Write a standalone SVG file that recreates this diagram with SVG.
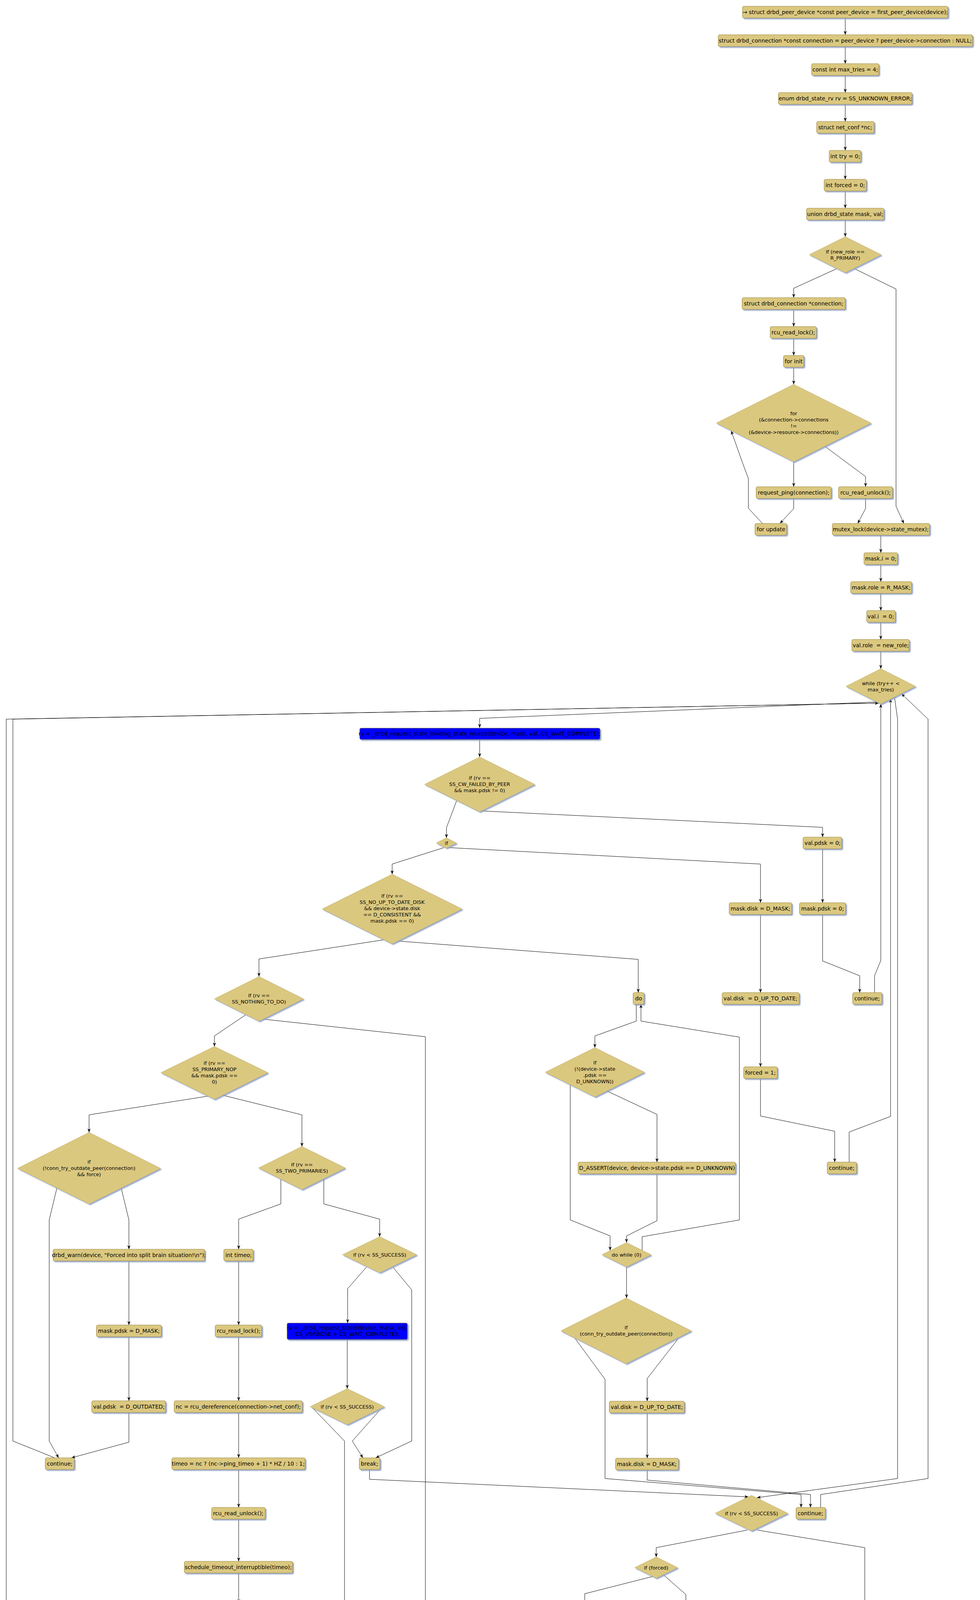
<svg xmlns="http://www.w3.org/2000/svg" width="2509" height="7654" viewBox="0 0 2509 7654">
<defs>
<filter id="sh" x="-10%" y="-20%" width="130%" height="160%"><feDropShadow dx="3" dy="3" stdDeviation="1" flood-color="#8b9fc6" flood-opacity="0.85"/></filter>
<marker id="ar" markerUnits="userSpaceOnUse" markerWidth="12" markerHeight="10" refX="10" refY="4" orient="auto"><path d="M0,0 L10,4 L0,8 L3,4 Z" fill="#000"/></marker>
</defs>
<style>
.b{fill:#dbc87f;stroke:#9c8847;stroke-width:1.2;filter:url(#sh)}
.blue{fill:#0000ff;stroke:#7c6d3a;stroke-width:1.2;filter:url(#sh)}
.red{fill:#ff0000;stroke:#9c8847;stroke-width:1.2;filter:url(#sh)}
.d{fill:#dbc87f;stroke:#c3b06a;stroke-width:1;filter:url(#sh)}
text{font-family:"DejaVu Sans","Liberation Sans",sans-serif;fill:#000;white-space:pre;text-anchor:middle}
.t{font-size:14px}
.dt{font-size:12.8px}
.e{fill:none;stroke:#000;stroke-width:1;marker-end:url(#ar)}
</style>
<rect width="2509" height="7654" fill="#fff"/>
<g id="edges">
<polyline class="e" points="2164,46 2164,89"/>
<polyline class="e" points="2164,119 2164,163"/>
<polyline class="e" points="2164,193 2164,237"/>
<polyline class="e" points="2164,267 2164,311"/>
<polyline class="e" points="2164,341 2164,385"/>
<polyline class="e" points="2164,415 2164,459"/>
<polyline class="e" points="2164,489 2164,533"/>
<polyline class="e" points="2164,563 2164,606"/>
<polyline class="e" points="2142,688 2032,738 2032,762"/>
<polyline class="e" points="2188,688 2294,740 2294,1296 2314,1340"/>
<polyline class="e" points="2032,792 2032,836"/>
<polyline class="e" points="2032,866 2032,910"/>
<polyline class="e" points="2032,940 2032,984"/>
<polyline class="e" points="2032,1182 2032,1246"/>
<polyline class="e" points="2111,1142 2216,1220 2216,1246"/>
<polyline class="e" points="2032,1276 2032,1302 1997,1340"/>
<polyline class="e" points="1952,1340 1916,1301 1916,1225 1900,1182 1872,1103"/>
<polyline class="e" points="2216,1276 2216,1302 2196,1340"/>
<polyline class="e" points="2255,1370 2255,1415"/>
<polyline class="e" points="2255,1445 2255,1489"/>
<polyline class="e" points="2255,1519 2255,1563"/>
<polyline class="e" points="2255,1593 2255,1637"/>
<polyline class="e" points="2255,1667 2255,1712"/>
<polyline class="e" points="2244,1797 1228,1839 1228,1863"/>
<polyline class="e" points="1228,1893 1228,1938"/>
<polyline class="e" points="1169,2050 1143,2119 1143,2145"/>
<polyline class="e" points="1233,2076 2106,2118 2106,2143"/>
<polyline class="e" points="2106,2173 2106,2311"/>
<polyline class="e" points="2106,2341 2106,2460 2201,2498 2201,2541"/>
<polyline class="e" points="2239,2541 2239,2498 2255,2459 2255,1802"/>
<polyline class="e" points="1136,2170 1004,2212 1004,2238"/>
<polyline class="e" points="1151,2170 1947,2212 1947,2311"/>
<polyline class="e" points="1947,2341 1947,2541"/>
<polyline class="e" points="1947,2571 1947,2731"/>
<polyline class="e" points="1947,2761 1947,2857 2137,2896 2137,2975"/>
<polyline class="e" points="2174,2975 2174,2898 2280,2858 2280,1789"/>
<polyline class="e" points="1018,2409 1634,2456 1634,2541"/>
<polyline class="e" points="982,2406 663,2455 663,2500"/>
<polyline class="e" points="1629,2571 1629,2614 1523,2652 1523,2682"/>
<polyline class="e" points="1554,2793 1682,2853 1682,2975"/>
<polyline class="e" points="1460,2777 1460,3123 1562,3164 1562,3201"/>
<polyline class="e" points="1682,3005 1682,3125 1604,3164 1604,3181"/>
<polyline class="e" points="1644,3201 1644,3166 1893,3123 1893,2655 1641,2614 1641,2571"/>
<polyline class="e" points="1604,3243 1604,3323"/>
<polyline class="e" points="1737,3426 1657,3529 1657,3587"/>
<polyline class="e" points="1472,3426 1549,3531 1549,3785 2051,3826 2051,3859"/>
<polyline class="e" points="1657,3617 1657,3733"/>
<polyline class="e" points="1657,3763 1657,3789 2075,3826 2075,3859"/>
<polyline class="e" points="2101,3859 2101,3826 2376,3785 2376,1841 2308,1776"/>
<polyline class="e" points="2290,1784 2298,1841 2298,3785 1938,3834"/>
<polyline class="e" points="674,2609 1089,2654 1089,7363"/>
<polyline class="e" points="629,2598 549,2652 549,2679"/>
<polyline class="e" points="533,2806 228,2854 228,2899"/>
<polyline class="e" points="571,2804 773,2854 773,2935"/>
<polyline class="e" points="146,3040 126,3123 126,3689 150,3732"/>
<polyline class="e" points="310,3040 330,3123 330,3198"/>
<polyline class="e" points="330,3228 330,3392"/>
<polyline class="e" points="330,3422 330,3586"/>
<polyline class="e" points="330,3616 330,3692 183,3732"/>
<polyline class="e" points="140,3732 33,3689 33,1841 2250,1800"/>
<polyline class="e" points="719,3018 719,3082 611,3121 611,3198"/>
<polyline class="e" points="829,3018 829,3082 972,3121 972,3166"/>
<polyline class="e" points="611,3228 611,3392"/>
<polyline class="e" points="611,3422 611,3586"/>
<polyline class="e" points="611,3616 611,3732"/>
<polyline class="e" points="611,3762 611,3859"/>
<polyline class="e" points="611,3889 611,3997"/>
<polyline class="e" points="611,4027 611,4104"/>
<polyline class="e" points="570,4169 564,4234 564,4272"/>
<polyline class="e" points="651,4169 658,4234 658,4344 520,4386"/>
<polyline class="e" points="564,4302 564,4344 496,4386"/>
<polyline class="e" points="464,4386 16,4343 16,1841 2250,1800"/>
<polyline class="e" points="938,3244 890,3299 890,3387"/>
<polyline class="e" points="1006,3244 1054,3302 1054,3689 962,3732"/>
<polyline class="e" points="889,3429 889,3555"/>
<polyline class="e" points="800,3604 882,3689 882,7363"/>
<polyline class="e" points="973,3609 902,3689 929,3732"/>
<polyline class="e" points="946,3762 946,3787 1916,3832"/>
<polyline class="e" points="1939,3917 2214,3962 2214,7363"/>
<polyline class="e" points="1913,3917 1680,3962 1680,3986"/>
<polyline class="e" points="1670,4036 1497,4080 1497,4132"/>
<polyline class="e" points="1698,4031 1756,4082 1756,4231 1711,4271"/>
<polyline class="e" points="1497,4162 1497,4231 1692,4271"/>
<polyline class="e" points="1709,4301 1771,4342 1771,4386"/>
<polyline class="e" points="1761,4416 1629,4456 1629,4480"/>
<polyline class="e" points="1629,4510 1629,4554"/>
<polyline class="e" points="1622,4584 1618,4629 1591,4687"/>
<polyline class="e" points="1670,4687 1642,4629 1637,4585"/>
<polyline class="e" points="1630,4730 1630,4753 1770,4801"/>
<polyline class="e" points="1798,4801 1913,4753 1913,4456 1783,4417"/>
<polyline class="e" points="1784,4856 1784,4901"/>
<polyline class="e" points="1722,5065 1638,5137 1638,5213 1488,5256 1488,5271"/>
<polyline class="e" points="1846,5067 1931,5135 1931,5160"/>
<polyline class="e" points="1931,5190 1931,5214 1761,5260"/>
<polyline class="e" points="1744,5258 1345,5213 1345,4344 1687,4302"/>
<polyline class="e" points="1488,5301 1488,5341 1688,5390"/>
<polyline class="e" points="1750,5317 1750,5403"/>
<polyline class="e" points="1694,5471 1348,5516 1348,6283"/>
<polyline class="e" points="1743,5455 1767,5512 1767,5538"/>
<polyline class="e" points="1767,5568 1767,5613"/>
<polyline class="e" points="1767,5643 1767,5687"/>
<polyline class="e" points="1781,5721 1824,5767 1824,5793"/>
<polyline class="e" points="1751,5721 1709,5769 1709,5845 1679,5887"/>
<polyline class="e" points="1824,5823 1824,5849 1854,5887"/>
<polyline class="e" points="1767,5917 1767,5960"/>
<polyline class="e" points="1898,6062 1822,6168 1822,6193"/>
<polyline class="e" points="1713,6102 1638,6170 1638,6662 1559,6714"/>
<polyline class="e" points="1832,6216 1890,6257 1890,6352"/>
<polyline class="e" points="1814,6216 1754,6259 1754,6495 1737,6535"/>
<polyline class="e" points="1890,6382 1890,6495 1909,6535"/>
<polyline class="e" points="1822,6565 1822,6609"/>
<polyline class="e" points="1822,6639 1822,6664 1570,6719"/>
<polyline class="e" points="1421,6415 1445,6492 1445,6535"/>
<polyline class="e" points="1271,6415 1252,6492 1252,6662 1501,6720"/>
<polyline class="e" points="1445,6565 1445,6609"/>
<polyline class="e" points="1445,6639 1445,6664 1514,6714"/>
<polyline class="e" points="1475,6816 1455,6882 1455,6908"/>
<polyline class="e" points="1581,6822 1658,6885 1658,7174 1603,7215"/>
<polyline class="e" points="1472,6954 1521,7002 1521,7028"/>
<polyline class="e" points="1436,6954 1387,7004 1385,7121"/>
<polyline class="e" points="1521,7058 1523,7121"/>
<polyline class="e" points="1453,7151 1453,7176 1513,7215"/>
<polyline class="e" points="1558,7245 1558,7290"/>
<polyline class="e" points="1558,7320 1558,7363"/>
<polyline class="e" points="1558,7393 1558,7418 1291,7458"/>
<polyline class="e" points="882,7393 882,7418 1251,7458"/>
<polyline class="e" points="1089,7393 1089,7418 1263,7458"/>
<polyline class="e" points="2214,7393 2214,7418 1302,7458"/>
<polyline class="e" points="1278,7488 1278,7532"/>
<polyline class="e" points="1278,7562 1278,7606"/>
</g>
<g id="n1"><rect class="b" x="1901" y="16" width="526" height="30" rx="4"/><text class="t" x="2164" y="36">→ struct drbd_peer_device *const peer_device = first_peer_device(device);</text></g>
<g id="n2"><rect class="b" x="1839" y="89" width="651" height="30" rx="4"/><text class="t" x="2164" y="109">struct drbd_connection *const connection = peer_device ? peer_device-&gt;connection : NULL;</text></g>
<g id="n3"><rect class="b" x="2078" y="163" width="172" height="30" rx="4"/><text class="t" x="2164" y="183">const int max_tries = 4;</text></g>
<g id="n4"><rect class="b" x="1993" y="237" width="342" height="30" rx="4"/><text class="t" x="2164" y="257">enum drbd_state_rv rv = SS_UNKNOWN_ERROR;</text></g>
<g id="n5"><rect class="b" x="2091" y="311" width="147" height="30" rx="4"/><text class="t" x="2164" y="331">struct net_conf *nc;</text></g>
<g id="n6"><rect class="b" x="2123" y="385" width="81" height="30" rx="4"/><text class="t" x="2164" y="405">int try = 0;</text></g>
<g id="n7"><rect class="b" x="2110" y="459" width="108" height="30" rx="4"/><text class="t" x="2164" y="479">int forced = 0;</text></g>
<g id="n8"><rect class="b" x="2065" y="533" width="198" height="30" rx="4"/><text class="t" x="2164" y="553">union drbd_state mask, val;</text></g>
<g id="d1"><polygon class="d" points="2164,606 2256,652 2164,698 2072,652"/><text class="dt" x="2164" y="649">if (new_role ==</text><text class="dt" x="2164" y="665">R_PRIMARY)</text></g>
<g id="n9"><rect class="b" x="1900" y="762" width="264" height="30" rx="4"/><text class="t" x="2032" y="782">struct drbd_connection *connection;</text></g>
<g id="n10"><rect class="b" x="1972" y="836" width="118" height="30" rx="4"/><text class="t" x="2031" y="856">rcu_read_lock();</text></g>
<g id="n11"><rect class="b" x="2006" y="910" width="52" height="30" rx="4"/><text class="t" x="2032" y="930">for init</text></g>
<g id="d2"><polygon class="d" points="2032,984 2230,1083 2032,1182 1834,1083"/><text class="dt" x="2032" y="1063">for</text><text class="dt" x="2032" y="1079">(&amp;connection-&gt;connections</text><text class="dt" x="2032" y="1095">!=</text><text class="dt" x="2032" y="1111">(&amp;device-&gt;resource-&gt;connections))</text></g>
<g id="n12"><rect class="b" x="1936" y="1246" width="192" height="30" rx="4"/><text class="t" x="2032" y="1266">request_ping(connection);</text></g>
<g id="n13"><rect class="b" x="2147" y="1246" width="138" height="30" rx="4"/><text class="t" x="2216" y="1266">rcu_read_unlock();</text></g>
<g id="n14"><rect class="b" x="1933" y="1340" width="81" height="30" rx="4"/><text class="t" x="1974" y="1360">for update</text></g>
<g id="n15"><rect class="b" x="2131" y="1340" width="249" height="30" rx="4"/><text class="t" x="2255" y="1360">mutex_lock(device-&gt;state_mutex);</text></g>
<g id="n16"><rect class="b" x="2212" y="1415" width="86" height="30" rx="4"/><text class="t" x="2255" y="1435">mask.i = 0;</text></g>
<g id="n17"><rect class="b" x="2178" y="1489" width="156" height="30" rx="4"/><text class="t" x="2256" y="1509">mask.role = R_MASK;</text></g>
<g id="n18"><rect class="b" x="2219" y="1563" width="73" height="30" rx="4"/><text class="t" x="2255" y="1583">val.i  = 0;</text></g>
<g id="n19"><rect class="b" x="2181" y="1637" width="147" height="30" rx="4"/><text class="t" x="2255" y="1657">val.role  = new_role;</text></g>
<g id="d3"><polygon class="d" points="2255,1712 2344,1757 2255,1802 2166,1757"/><text class="dt" x="2255" y="1754">while (try++ &lt;</text><text class="dt" x="2255" y="1770">max_tries)</text></g>
<g id="n20"><rect class="blue" x="921" y="1864" width="615" height="29" rx="4"/><text class="t" x="1228" y="1883">rv = _drbd_request_state_holding_state_mutex(device, mask, val, CS_WAIT_COMPLETE);</text></g>
<g id="d4"><polygon class="d" points="1228,1938 1369,2008 1228,2078 1087,2008"/><text class="dt" x="1228" y="1996">if (rv ==</text><text class="dt" x="1228" y="2012">SS_CW_FAILED_BY_PEER</text><text class="dt" x="1228" y="2028">&amp;&amp; mask.pdsk != 0)</text></g>
<g id="d5"><polygon class="d" points="1143,2145 1169,2158 1143,2171 1117,2158"/><text class="dt" x="1143" y="2163">if</text></g>
<g id="n21"><rect class="b" x="2056" y="2143" width="99" height="30" rx="4"/><text class="t" x="2106" y="2163">val.pdsk = 0;</text></g>
<g id="n22"><rect class="b" x="2047" y="2311" width="118" height="30" rx="4"/><text class="t" x="2106" y="2331">mask.pdsk = 0;</text></g>
<g id="n23"><rect class="b" x="2183" y="2541" width="75" height="30" rx="4"/><text class="t" x="2220" y="2561">continue;</text></g>
<g id="d6"><polygon class="d" points="1004,2238 1183,2327 1004,2416 825,2327"/><text class="dt" x="1004" y="2298">if (rv ==</text><text class="dt" x="1004" y="2314">SS_NO_UP_TO_DATE_DISK</text><text class="dt" x="1004" y="2330">&amp;&amp; device-&gt;state.disk</text><text class="dt" x="1004" y="2346">== D_CONSISTENT &amp;&amp;</text><text class="dt" x="1004" y="2362">mask.pdsk == 0)</text></g>
<g id="n24"><rect class="b" x="1867" y="2311" width="160" height="30" rx="4"/><text class="t" x="1947" y="2331">mask.disk = D_MASK;</text></g>
<g id="n25"><rect class="b" x="1849" y="2541" width="197" height="30" rx="4"/><text class="t" x="1947" y="2561">val.disk  = D_UP_TO_DATE;</text></g>
<g id="n26"><rect class="b" x="1904" y="2731" width="86" height="30" rx="4"/><text class="t" x="1947" y="2751">forced = 1;</text></g>
<g id="n27"><rect class="b" x="2118" y="2975" width="75" height="30" rx="4"/><text class="t" x="2155" y="2995">continue;</text></g>
<g id="n28"><rect class="b" x="1621" y="2541" width="28" height="30" rx="4"/><text class="t" x="1635" y="2561">do</text></g>
<g id="d7"><polygon class="d" points="1523,2682 1650,2745 1523,2808 1396,2745"/><text class="dt" x="1523" y="2725">if</text><text class="dt" x="1523" y="2741">(!(device-&gt;state</text><text class="dt" x="1523" y="2757">.pdsk ==</text><text class="dt" x="1523" y="2773">D_UNKNOWN))</text></g>
<g id="n29"><rect class="b" x="1480" y="2975" width="403" height="30" rx="4"/><text class="t" x="1682" y="2995">D_ASSERT(device, device-&gt;state.pdsk == D_UNKNOWN)</text></g>
<g id="d8"><polygon class="d" points="1604,3181 1667,3212 1604,3243 1541,3212"/><text class="dt" x="1604" y="3217">do while (0)</text></g>
<g id="d9"><polygon class="d" points="1603,3323 1770,3407 1603,3491 1436,3407"/><text class="dt" x="1603" y="3403">if</text><text class="dt" x="1603" y="3419">(conn_try_outdate_peer(connection))</text></g>
<g id="n30"><rect class="b" x="1560" y="3587" width="192" height="30" rx="4"/><text class="t" x="1656" y="3607">val.disk = D_UP_TO_DATE;</text></g>
<g id="n31"><rect class="b" x="1576" y="3733" width="161" height="30" rx="4"/><text class="t" x="1656" y="3753">mask.disk = D_MASK;</text></g>
<g id="n32"><rect class="b" x="2038" y="3859" width="75" height="30" rx="4"/><text class="t" x="2075" y="3879">continue;</text></g>
<g id="d10"><polygon class="d" points="663,2500 777,2557 663,2614 549,2557"/><text class="dt" x="663" y="2553">if (rv ==</text><text class="dt" x="663" y="2569">SS_NOTHING_TO_DO)</text></g>
<g id="d11"><polygon class="d" points="549,2679 686,2746 549,2814 412,2746"/><text class="dt" x="549" y="2726">if (rv ==</text><text class="dt" x="549" y="2742">SS_PRIMARY_NOP</text><text class="dt" x="549" y="2758">&amp;&amp; mask.pdsk ==</text><text class="dt" x="549" y="2774">0)</text></g>
<g id="d12"><polygon class="d" points="228,2899 411,2991 228,3082 45,2991"/><text class="dt" x="228" y="2979">if</text><text class="dt" x="228" y="2995">(!conn_try_outdate_peer(connection)</text><text class="dt" x="228" y="3011">&amp;&amp; force)</text></g>
<g id="d13"><polygon class="d" points="773,2935 884,2990 773,3045 662,2990"/><text class="dt" x="773" y="2986">if (rv ==</text><text class="dt" x="773" y="3002">SS_TWO_PRIMARIES)</text></g>
<g id="n33"><rect class="b" x="136" y="3198" width="388" height="30" rx="4"/><text class="t" x="330" y="3218">drbd_warn(device, "Forced into split brain situation!\n");</text></g>
<g id="n34"><rect class="b" x="247" y="3392" width="166" height="30" rx="4"/><text class="t" x="330" y="3412">mask.pdsk = D_MASK;</text></g>
<g id="n35"><rect class="b" x="235" y="3586" width="189" height="30" rx="4"/><text class="t" x="330" y="3606">val.pdsk  = D_OUTDATED;</text></g>
<g id="n36"><rect class="b" x="116" y="3732" width="74" height="30" rx="4"/><text class="t" x="153" y="3752">continue;</text></g>
<g id="n37"><rect class="b" x="573" y="3198" width="75" height="30" rx="4"/><text class="t" x="611" y="3218">int timeo;</text></g>
<g id="n38"><rect class="b" x="551" y="3392" width="119" height="30" rx="4"/><text class="t" x="611" y="3412">rcu_read_lock();</text></g>
<g id="n39"><rect class="b" x="446" y="3586" width="328" height="30" rx="4"/><text class="t" x="610" y="3606">nc = rcu_dereference(connection-&gt;net_conf);</text></g>
<g id="n40"><rect class="b" x="440" y="3732" width="341" height="30" rx="4"/><text class="t" x="610" y="3752">timeo = nc ? (nc-&gt;ping_timeo + 1) * HZ / 10 : 1;</text></g>
<g id="n41"><rect class="b" x="542" y="3859" width="137" height="30" rx="4"/><text class="t" x="610" y="3879">rcu_read_unlock();</text></g>
<g id="n42"><rect class="b" x="472" y="3997" width="277" height="30" rx="4"/><text class="t" x="610" y="4017">schedule_timeout_interruptible(timeo);</text></g>
<g id="d14"><polygon class="d" points="611,4104 694,4146 611,4189 528,4146"/><text class="dt" x="611" y="4151">if (try &lt; max_tries)</text></g>
<g id="n43"><rect class="b" x="496" y="4272" width="137" height="30" rx="4"/><text class="t" x="564" y="4292">try = max_tries - 1;</text></g>
<g id="n44"><rect class="b" x="454" y="4386" width="75" height="30" rx="4"/><text class="t" x="491" y="4406">continue;</text></g>
<g id="d15"><polygon class="d" points="972,3166 1067,3212 972,3258 877,3212"/><text class="dt" x="972" y="3217">if (rv &lt; SS_SUCCESS)</text></g>
<g id="n45"><rect class="blue" x="735" y="3387" width="308" height="42" rx="4"/><text class="t" x="889" y="3404">rv = _drbd_request_state(device, mask, val,</text><text class="t" x="889" y="3420">CS_VERBOSE + CS_WAIT_COMPLETE);</text></g>
<g id="d16"><polygon class="d" points="889,3555 984,3601 889,3647 794,3601"/><text class="dt" x="889" y="3606">if (rv &lt; SS_SUCCESS)</text></g>
<g id="n46"><rect class="b" x="920" y="3732" width="53" height="30" rx="4"/><text class="t" x="946" y="3752">break;</text></g>
<g id="d17"><polygon class="d" points="1924,3828 2017,3874 1924,3919 1831,3874"/><text class="dt" x="1924" y="3879">if (rv &lt; SS_SUCCESS)</text></g>
<g id="d18"><polygon class="d" points="1680,3986 1735,4013 1680,4040 1625,4013"/><text class="dt" x="1680" y="4018">if (forced)</text></g>
<g id="n47"><rect class="b" x="1261" y="4132" width="471" height="30" rx="4"/><text class="t" x="1496" y="4152">drbd_warn(device, "Forced to consider local data as UpToDate!\n");</text></g>
<g id="n48"><rect class="b" x="1687" y="4271" width="26" height="30" rx="4"/><text class="t" x="1700" y="4291">do</text></g>
<g id="n49"><rect class="b" x="1759" y="4386" width="26" height="30" rx="4"/><text class="t" x="1772" y="4406">do</text></g>
<g id="n50"><rect class="b" x="1356" y="4480" width="548" height="30" rx="4"/><text class="t" x="1630" y="4500">wait_event(device-&gt;misc_wait, atomic_read(&amp;device-&gt;ap_pending_cnt) == 0)</text></g>
<g id="n51"><rect class="b" x="1616" y="4554" width="27" height="30" rx="4"/><text class="t" x="1629" y="4574">do</text></g>
<g id="d19"><polygon class="d" points="1630,4668 1692,4699 1630,4730 1568,4699"/><text class="dt" x="1630" y="4704">do while (0)</text></g>
<g id="d20"><polygon class="d" points="1784,4794 1846,4825 1784,4856 1722,4825"/><text class="dt" x="1784" y="4830">do while (0)</text></g>
<g id="d21"><polygon class="d" points="1784,4901 1980,4999 1784,5097 1588,4999"/><text class="dt" x="1784" y="4987">if</text><text class="dt" x="1784" y="5003">(atomic_read(&amp;device-&gt;ap_pending_cnt)</text><text class="dt" x="1784" y="5019">== 0)</text></g>
<g id="n52"><rect class="b" x="1657" y="5160" width="548" height="30" rx="4"/><text class="t" x="1931" y="5180">wait_event(device-&gt;misc_wait, atomic_read(&amp;device-&gt;ap_pending_cnt) == 0)</text></g>
<g id="n53"><rect class="b" x="1462" y="5271" width="53" height="30" rx="4"/><text class="t" x="1488" y="5291">break;</text></g>
<g id="d22"><polygon class="d" points="1750,5255 1812,5286 1750,5317 1688,5286"/><text class="dt" x="1750" y="5291">do while (0)</text></g>
<g id="d23"><polygon class="d" points="1705,5382 1799,5429 1705,5476 1611,5429"/><text class="dt" x="1705" y="5425">if (new_role ==</text><text class="dt" x="1705" y="5441">R_SECONDARY)</text></g>
<g id="n54"><rect class="b" x="1597" y="5538" width="340" height="30" rx="4"/><text class="t" x="1767" y="5558">mutex_lock(&amp;device-&gt;resource-&gt;conf_update);</text></g>
<g id="n55"><rect class="b" x="1665" y="5613" width="204" height="30" rx="4"/><text class="t" x="1767" y="5633">nc = connection-&gt;net_conf;</text></g>
<g id="d24"><polygon class="d" points="1767,5687 1809,5707 1767,5728 1725,5707"/><text class="dt" x="1767" y="5712">if (nc)</text></g>
<g id="n56"><rect class="b" x="1729" y="5793" width="190" height="30" rx="4"/><text class="t" x="1824" y="5813">nc-&gt;discard_my_data = 0;</text></g>
<g id="n57"><rect class="b" x="1588" y="5887" width="357" height="30" rx="4"/><text class="t" x="1766" y="5907">mutex_unlock(&amp;device-&gt;resource-&gt;conf_update);</text></g>
<g id="d25"><polygon class="d" points="1767,5960 1935,6044 1767,6129 1599,6044"/><text class="dt" x="1767" y="6024">if</text><text class="dt" x="1767" y="6040">((_get_ldev_if_state((device),</text><text class="dt" x="1767" y="6056">(D_INCONSISTENT))</text><text class="dt" x="1767" y="6072">? ... : false))</text></g>
<g id="d26"><polygon class="d" points="1822,6193 1848,6205 1822,6218 1796,6205"/><text class="dt" x="1822" y="6210">if</text></g>
<g id="n58"><rect class="b" x="1774" y="6352" width="231" height="30" rx="4"/><text class="t" x="1890" y="6372">drbd_uuid_new_current(device);</text></g>
<g id="n59"><rect class="b" x="1647" y="6535" width="350" height="30" rx="4"/><text class="t" x="1822" y="6555">device-&gt;ldev-&gt;md.uuid[UI_CURRENT] |=  (u64)1;</text></g>
<g id="n60"><rect class="b" x="1760" y="6609" width="127" height="30" rx="4"/><text class="t" x="1823" y="6629">put_ldev(device);</text></g>
<g id="d27"><polygon class="d" points="1348,6283 1516,6367 1348,6452 1180,6367"/><text class="dt" x="1348" y="6347">if</text><text class="dt" x="1348" y="6363">((_get_ldev_if_state((device),</text><text class="dt" x="1348" y="6379">(D_INCONSISTENT))</text><text class="dt" x="1348" y="6395">? ... : false))</text></g>
<g id="n61"><rect class="b" x="1261" y="6535" width="366" height="30" rx="4"/><text class="t" x="1444" y="6555">device-&gt;ldev-&gt;md.uuid[UI_CURRENT] &amp;= ~(u64)1;</text></g>
<g id="n62"><rect class="b" x="1380" y="6609" width="128" height="30" rx="4"/><text class="t" x="1444" y="6629">put_ldev(device);</text></g>
<g id="d28"><polygon class="d" points="1537,6703 1679,6774 1537,6845 1395,6774"/><text class="dt" x="1537" y="6763">if (device-&gt;state</text><text class="dt" x="1537" y="6779">.conn &gt;=</text><text class="dt" x="1537" y="6795">C_WF_REPORT_PARAMS)</text></g>
<g id="d29"><polygon class="d" points="1455,6908 1510,6935 1455,6963 1400,6935"/><text class="dt" x="1455" y="6940">if (forced)</text></g>
<g id="n63"><rect class="b" x="1408" y="7028" width="226" height="30" rx="4"/><text class="t" x="1521" y="7048">drbd_send_uuids(peer_device);</text></g>
<g id="n64"><rect class="b" x="1314" y="7121" width="280" height="30" rx="4"/><text class="t" x="1454" y="7141">drbd_send_current_state(peer_device);</text></g>
<g id="n65"><rect class="b" x="1473" y="7215" width="170" height="30" rx="4"/><text class="t" x="1558" y="7235">drbd_md_sync(device);</text></g>
<g id="n66"><rect class="b" x="1355" y="7290" width="406" height="30" rx="4"/><text class="t" x="1558" y="7310">set_disk_ro(device-&gt;vdisk, new_role == R_SECONDARY);</text></g>
<g id="n67"><rect class="b" x="1317" y="7363" width="482" height="30" rx="4"/><text class="t" x="1558" y="7383">kobject_uevent(&amp;disk_to_dev(device-&gt;vdisk)-&gt;kobj, KOBJ_CHANGE);</text></g>
<g id="n68"><rect class="b" x="848" y="7363" width="68" height="30" rx="4"/><text class="t" x="882" y="7383">goto out;</text></g>
<g id="n69"><rect class="b" x="1054" y="7363" width="69" height="30" rx="4"/><text class="t" x="1089" y="7383">goto out;</text></g>
<g id="n70"><rect class="b" x="2180" y="7363" width="68" height="30" rx="4"/><text class="t" x="2214" y="7383">goto out;</text></g>
<g id="n71"><rect class="b" x="1245" y="7458" width="66" height="30" rx="4"/><text class="t" x="1278" y="7478">label out</text></g>
<g id="n72"><rect class="red" x="1146" y="7532" width="266" height="30" rx="4"/><text class="t" x="1279" y="7552">mutex_unlock(device-&gt;state_mutex);</text></g>
<g id="n73"><rect class="b" x="1235" y="7606" width="87" height="30" rx="4"/><text class="t" x="1278" y="7626">return; rv →</text></g>
</svg>
